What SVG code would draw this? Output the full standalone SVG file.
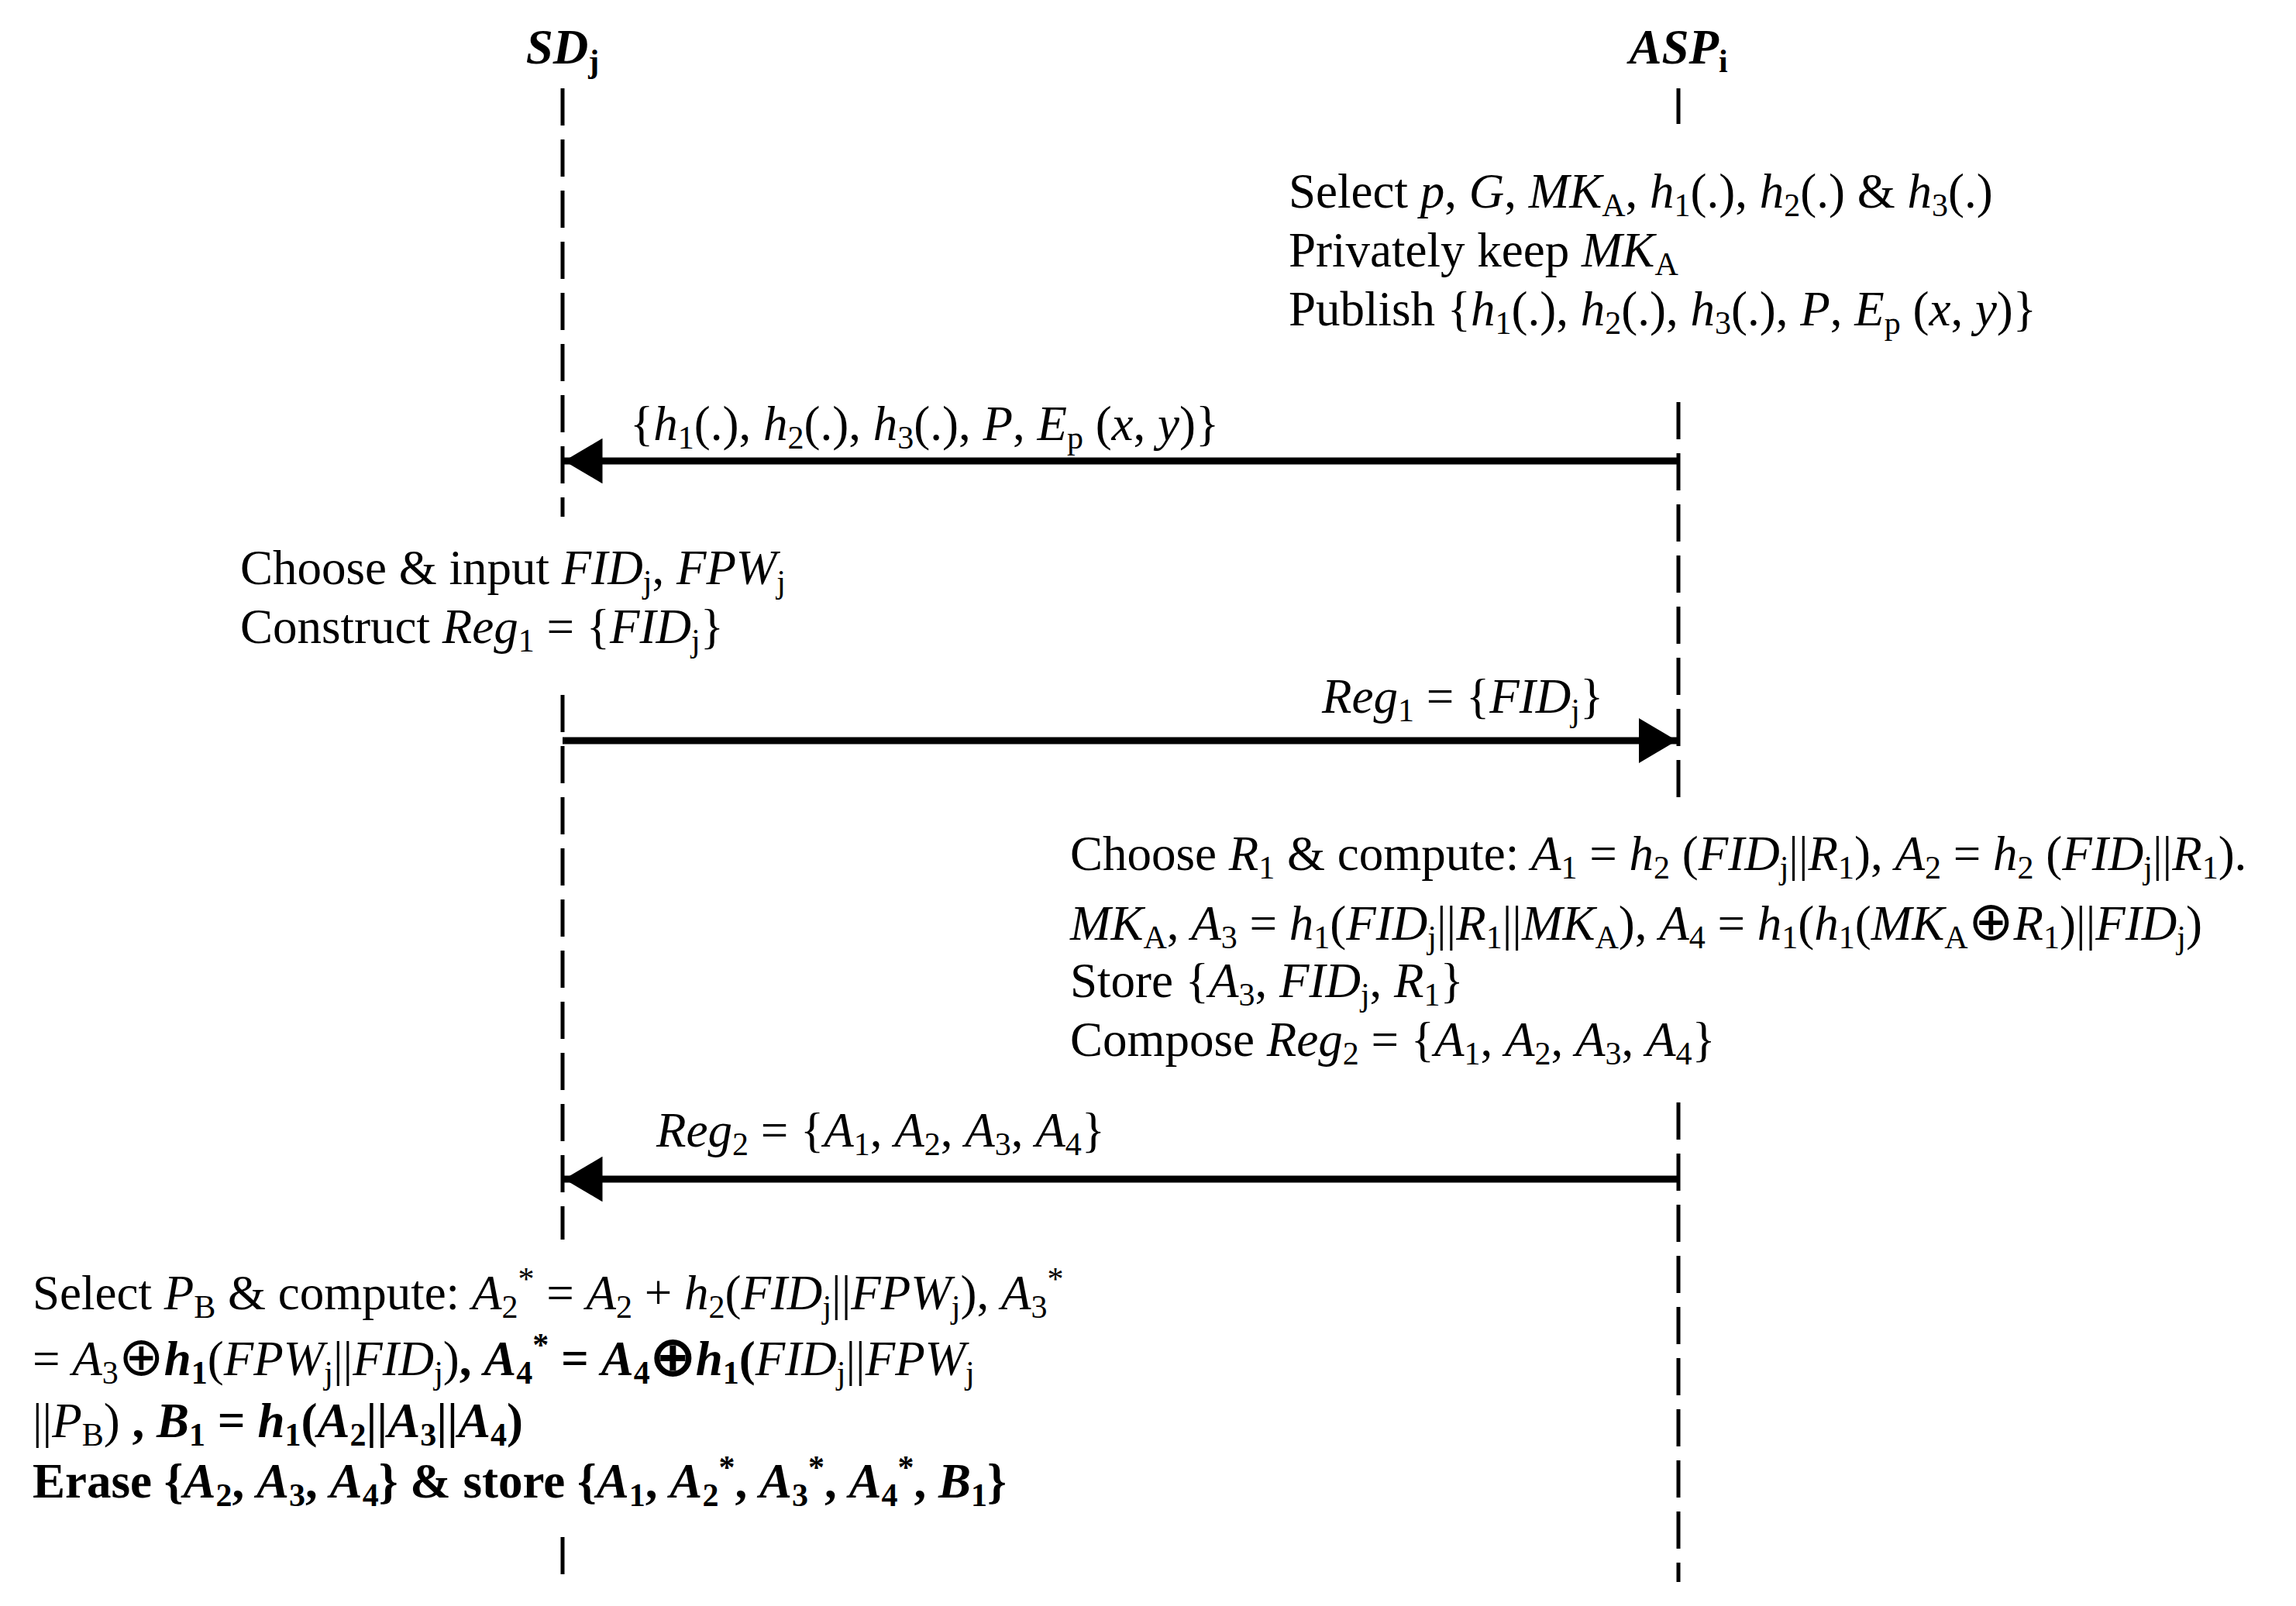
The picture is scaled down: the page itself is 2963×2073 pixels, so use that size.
<svg xmlns="http://www.w3.org/2000/svg" width="2963" height="2073" viewBox="0 0 2963 2073">
<style>
text{font-family:"Liberation Serif","Times New Roman",serif;font-size:63px;fill:#000}
.i{font-style:italic}
.b{font-weight:bold}
.s{font-size:42px;baseline-shift:-11px}
.p{font-size:42px;baseline-shift:25px}
.x{font-size:70px}
.life{stroke:#000;stroke-width:5;stroke-dasharray:48 18;fill:none}
.msg{stroke:#000;stroke-width:9;fill:none}
</style>
<defs>
<marker id="ah" viewBox="0 0 10 10" refX="10" refY="5" markerWidth="5.5" markerHeight="6.5" orient="auto" markerUnits="strokeWidth" preserveAspectRatio="none">
<path d="M0,0 L10,5 L0,10 z" fill="#000"/>
</marker>
</defs>
<rect width="2963" height="2073" fill="#fff"/>
<g id="SD">
<text x="726" y="82" text-anchor="middle" class="b i">SD<tspan class="s" font-style="normal">j</tspan></text>
<path class="life" d="M726,114V667M726,897V1600M726,1984V2042"/>
</g>
<g id="ASP">
<text x="2166" y="82" text-anchor="middle" class="b i">ASP<tspan class="s" font-style="normal">i</tspan></text>
<path class="life" d="M2166,114V160M2166,519V1041M2166,1423V2042"/>
</g>
<g id="setup">
<text x="1663" y="268">Select <tspan class="i">p</tspan>, <tspan class="i">G</tspan>, <tspan class="i">MK</tspan><tspan class="s">A</tspan>, <tspan class="i">h</tspan><tspan class="s">1</tspan>(.), <tspan class="i">h</tspan><tspan class="s">2</tspan>(.) &amp; <tspan class="i">h</tspan><tspan class="s">3</tspan>(.)</text>
<text x="1663" y="344">Privately keep <tspan class="i">MK</tspan><tspan class="s">A</tspan></text>
<text x="1663" y="420">Publish {<tspan class="i">h</tspan><tspan class="s">1</tspan>(.), <tspan class="i">h</tspan><tspan class="s">2</tspan>(.), <tspan class="i">h</tspan><tspan class="s">3</tspan>(.), <tspan class="i">P</tspan>, <tspan class="i">E</tspan><tspan class="s">p</tspan> (<tspan class="i">x</tspan>, <tspan class="i">y</tspan>)}</text>
</g>
<g id="choose1">
<text x="310" y="754">Choose &amp; input <tspan class="i">FID</tspan><tspan class="s">j</tspan>, <tspan class="i">FPW</tspan><tspan class="s">j</tspan></text>
<text x="310" y="830">Construct <tspan class="i">Reg</tspan><tspan class="s">1</tspan> = {<tspan class="i">FID</tspan><tspan class="s">j</tspan>}</text>
</g>
<g id="compute2">
<text x="1381" y="1123">Choose <tspan class="i">R</tspan><tspan class="s">1</tspan> &amp; compute:  <tspan class="i">A</tspan><tspan class="s">1</tspan> = <tspan class="i">h</tspan><tspan class="s">2</tspan> (<tspan class="i">FID</tspan><tspan class="s">j</tspan>||<tspan class="i">R</tspan><tspan class="s">1</tspan>), <tspan class="i">A</tspan><tspan class="s">2</tspan> = <tspan class="i">h</tspan><tspan class="s">2</tspan> (<tspan class="i">FID</tspan><tspan class="s">j</tspan>||<tspan class="i">R</tspan><tspan class="s">1</tspan>).</text>
<text x="1381" y="1213"><tspan class="i">MK</tspan><tspan class="s">A</tspan>,  <tspan class="i">A</tspan><tspan class="s">3</tspan> = <tspan class="i">h</tspan><tspan class="s">1</tspan>(<tspan class="i">FID</tspan><tspan class="s">j</tspan>||<tspan class="i">R</tspan><tspan class="s">1</tspan>||<tspan class="i">MK</tspan><tspan class="s">A</tspan>),  <tspan class="i">A</tspan><tspan class="s">4</tspan> = <tspan class="i">h</tspan><tspan class="s">1</tspan>(<tspan class="i">h</tspan><tspan class="s">1</tspan>(<tspan class="i">MK</tspan><tspan class="s">A</tspan><tspan class="x">⊕</tspan><tspan class="i">R</tspan><tspan class="s">1</tspan>)||<tspan class="i">FID</tspan><tspan class="s">j</tspan>)</text>
<text x="1381" y="1287">Store {<tspan class="i">A</tspan><tspan class="s">3</tspan>, <tspan class="i">FID</tspan><tspan class="s">j</tspan>, <tspan class="i">R</tspan><tspan class="s">1</tspan>}</text>
<text x="1381" y="1363">Compose <tspan class="i">Reg</tspan><tspan class="s">2</tspan> = {<tspan class="i">A</tspan><tspan class="s">1</tspan>, <tspan class="i">A</tspan><tspan class="s">2</tspan>, <tspan class="i">A</tspan><tspan class="s">3</tspan>, <tspan class="i">A</tspan><tspan class="s">4</tspan>}</text>
</g>
<g id="compute3">
<text x="42" y="1690">Select <tspan class="i">P</tspan><tspan class="s">B</tspan> &amp; compute: <tspan class="i">A</tspan><tspan class="s">2</tspan><tspan class="p">*</tspan> = <tspan class="i">A</tspan><tspan class="s">2</tspan> + <tspan class="i">h</tspan><tspan class="s">2</tspan>(<tspan class="i">FID</tspan><tspan class="s">j</tspan>||<tspan class="i">FPW</tspan><tspan class="s">j</tspan>), <tspan class="i">A</tspan><tspan class="s">3</tspan><tspan class="p">*</tspan></text>
<text x="42" y="1775">= <tspan class="i">A</tspan><tspan class="s">3</tspan><tspan class="x">⊕</tspan><tspan class="i b">h</tspan><tspan class="s b">1</tspan>(<tspan class="i">FPW</tspan><tspan class="s">j</tspan>||<tspan class="i">FID</tspan><tspan class="s">j</tspan>)<tspan class="b">, <tspan class="i">A</tspan><tspan class="s">4</tspan><tspan class="p">*</tspan> = <tspan class="i">A</tspan><tspan class="s">4</tspan><tspan class="x">⊕</tspan><tspan class="i">h</tspan><tspan class="s">1</tspan>(</tspan><tspan class="i">FID</tspan><tspan class="s">j</tspan>||<tspan class="i">FPW</tspan><tspan class="s">j</tspan></text>
<text x="42" y="1855">||<tspan class="i">P</tspan><tspan class="s">B</tspan>) <tspan class="b">, <tspan class="i">B</tspan><tspan class="s">1</tspan> = <tspan class="i">h</tspan><tspan class="s">1</tspan>(<tspan class="i">A</tspan><tspan class="s">2</tspan>||<tspan class="i">A</tspan><tspan class="s">3</tspan>||<tspan class="i">A</tspan><tspan class="s">4</tspan>)</tspan></text>
<text x="42" y="1933" class="b">Erase {<tspan class="i">A</tspan><tspan class="s">2</tspan>, <tspan class="i">A</tspan><tspan class="s">3</tspan>, <tspan class="i">A</tspan><tspan class="s">4</tspan>} &amp; store {<tspan class="i">A</tspan><tspan class="s">1</tspan>, <tspan class="i">A</tspan><tspan class="s">2</tspan><tspan class="p">*</tspan>, <tspan class="i">A</tspan><tspan class="s">3</tspan><tspan class="p">*</tspan>, <tspan class="i">A</tspan><tspan class="s">4</tspan><tspan class="p">*</tspan>, <tspan class="i">B</tspan><tspan class="s">1</tspan>}</text>
</g>
<g id="connectors">
<line class="msg" x1="2166" y1="595" x2="728" y2="595" marker-end="url(#ah)"/>
<text x="813" y="568">{<tspan class="i">h</tspan><tspan class="s">1</tspan>(.), <tspan class="i">h</tspan><tspan class="s">2</tspan>(.), <tspan class="i">h</tspan><tspan class="s">3</tspan>(.), <tspan class="i">P</tspan>, <tspan class="i">E</tspan><tspan class="s">p</tspan> (<tspan class="i">x</tspan>, <tspan class="i">y</tspan>)}</text>
<line class="msg" x1="726" y1="956" x2="2164" y2="956" marker-end="url(#ah)"/>
<text x="1706" y="920"><tspan class="i">Reg</tspan><tspan class="s">1</tspan> = {<tspan class="i">FID</tspan><tspan class="s">j</tspan>}</text>
<line class="msg" x1="2166" y1="1522" x2="728" y2="1522" marker-end="url(#ah)"/>
<text x="847" y="1480"><tspan class="i">Reg</tspan><tspan class="s">2</tspan> = {<tspan class="i">A</tspan><tspan class="s">1</tspan>, <tspan class="i">A</tspan><tspan class="s">2</tspan>, <tspan class="i">A</tspan><tspan class="s">3</tspan>, <tspan class="i">A</tspan><tspan class="s">4</tspan>}</text>
</g>
</svg>
